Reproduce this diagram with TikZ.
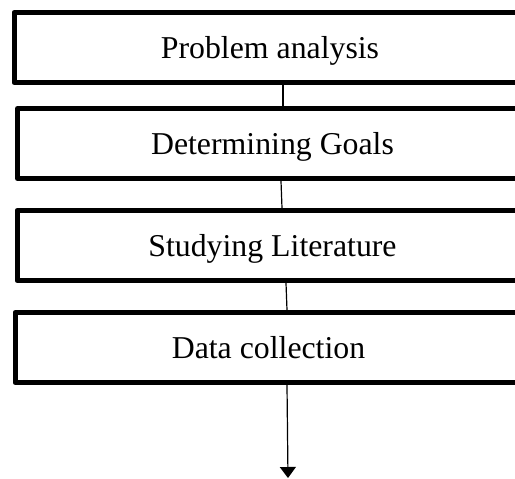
\documentclass[tikz,border=0pt]{standalone}
\usepackage{fontspec}
\setmainfont{Liberation Serif}
\usetikzlibrary{arrows.meta}
\begin{document}
\begin{tikzpicture}[x=1pt,y=1pt,
  stepbox/.style={draw=black, line width=5pt, line join=round, rectangle,
    minimum height=70pt, inner sep=0pt, text height=21pt, text depth=0pt,
    font=\fontsize{31.8}{38}\selectfont},
  link/.style={draw=black, line width=1.2pt},
]
\useasboundingbox (0,0) rectangle (515,-479);
\node[stepbox, minimum width=512pt] (b1) at (270,-47.5) {Problem analysis};
\node[stepbox, minimum width=510pt] (b2) at (272.5,-143.5) {Determining Goals};
\node[stepbox, minimum width=511pt] (b3) at (272.5,-245.5) {Studying Literature};
\node[stepbox, minimum width=507pt] (b4) at (268.5,-347.5) {Data collection};
\coordinate (end) at (288,-478);
\draw[link] ([xshift=13pt]b1.south) -- ([xshift=10.5pt]b2.north);
\draw[link] ([xshift=8.5pt]b2.south) -- ([xshift=9.5pt]b3.north);
\draw[link] ([xshift=13.5pt]b3.south) -- ([xshift=18.5pt]b4.north);
\draw[link, -{Triangle[length=11pt,width=16pt]}] ([xshift=18.5pt]b4.south) -- (end);
\end{tikzpicture}
\end{document}
